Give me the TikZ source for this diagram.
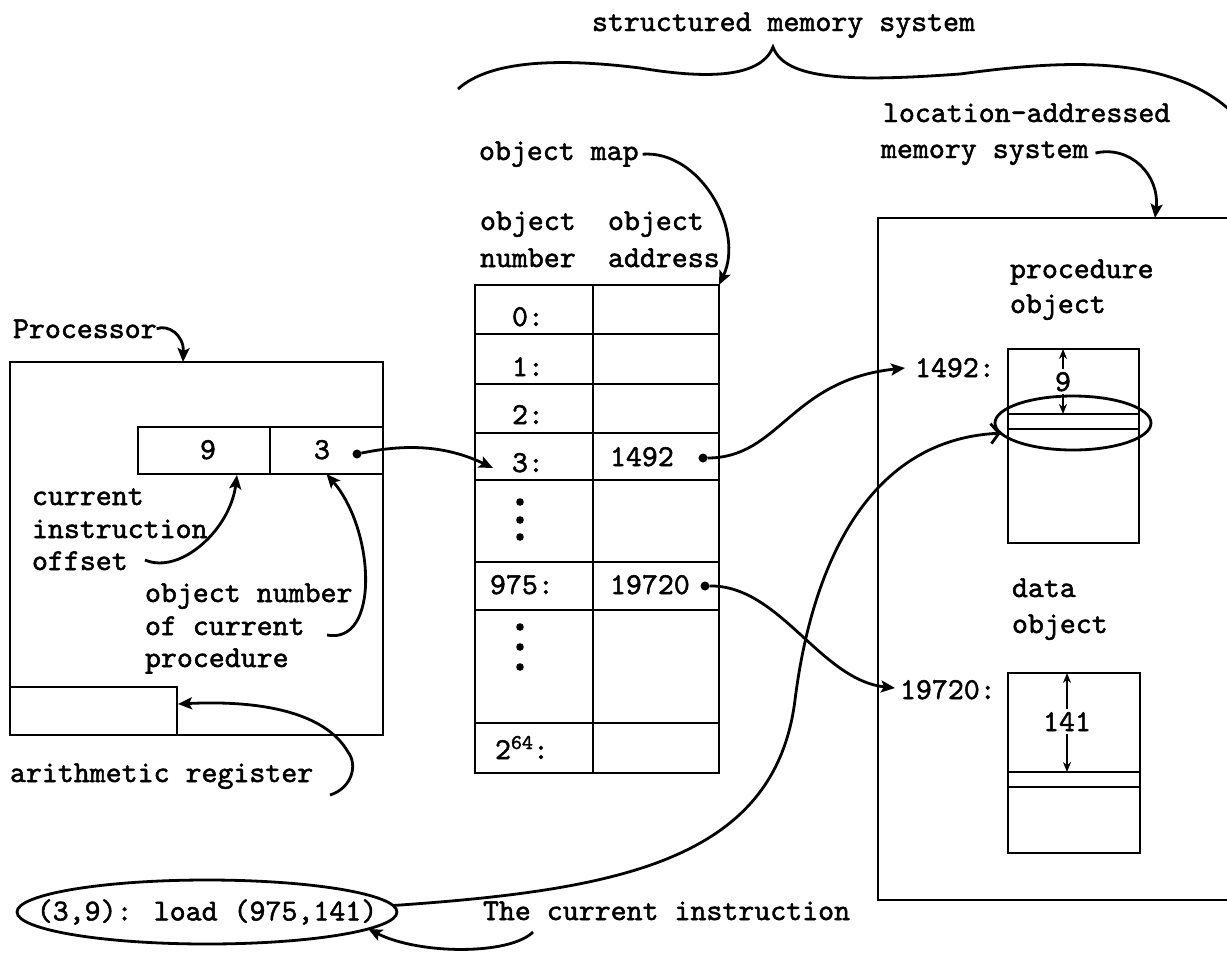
\documentclass[tikz,border=0pt]{standalone}
\usetikzlibrary{arrows.meta,shapes.geometric}
% typewriter face, slightly heavier than the stock weight
\font\twfont="[lmmono10-regular]:embolden=1.6" at 30.4pt
\font\twsmall="[lmmono10-regular]:embolden=1.6" at 21pt
\newcommand\tw{\twfont}
\newcommand\sups[1]{\raisebox{10pt}{\twsmall #1}}
\begin{document}
\begin{tikzpicture}[x=1pt,y=-1pt, line width=2.8pt,
  txt/.style={inner sep=0pt, outer sep=0pt, anchor=base west, font=\tw},
  ctxt/.style={inner sep=0pt, outer sep=0pt, anchor=base, font=\tw},
  box/.style={draw, rectangle, inner sep=0pt, outer sep=0pt, anchor=north west},
  ring/.style={draw, ellipse, inner sep=0pt, outer sep=0pt},
  tip/.style={-{Stealth[length=14pt,width=12pt,inset=3pt]}},
  open/.style={-{Straight Barb[length=8pt,width=20pt]}},
  small/.style={-{Stealth[length=10pt,width=8pt]}, line width=2.2pt},
  dot/.style={circle, fill, inner sep=0pt, outer sep=0pt, minimum size=9pt},
]
\useasboundingbox (0,0) rectangle (1227,954);
\clip (0,0) rectangle (1227,954);
\fill[white] (0,0) rectangle (1227,954);

% brace over the structured memory system
\node[txt] (tTitle) at (592,31) {structured memory system};
\draw (458,89) .. controls (490,60) and (560,58) .. (640,68)
      .. controls (700,78) and (760,80) .. (773,47)
      .. controls (785,80) and (850,82) .. (960,74)
      .. controls (1050,62) and (1170,50) .. (1235,115);

% processor
\node[txt] (tProc) at (13,338) {Processor};
\node[box, minimum width=373pt, minimum height=373pt] (proc) at (10,362) {};
\node[box, minimum width=132pt, minimum height=47pt] (reg9) at (138,427) {};
\node[box, minimum width=113pt, minimum height=47pt] (reg3) at (270,427) {};
\node[box, minimum width=167pt, minimum height=48pt] (arith) at (10,687) {};
\node[ctxt] (v9) at (208,459) {9};
\node[ctxt] (v3) at (322,459) {3};
\node[dot] (d3) at (357,454) {};
\node[txt] (tCur) at (32,505) {current};
\node[txt] (tIns) at (32,538) {instruction};
\node[txt] (tOff) at (32,570) {offset};
\node[txt] (tObn) at (145,602) {object number};
\node[txt] (tOfc) at (145,635) {of current};
\node[txt] (tPrc) at (145,667) {procedure};
\node[txt] (tAr) at (10,782) {arithmetic register};

% object map
\node[txt] (tMap) at (479,160) {object map};
\node[txt] (h1) at (480,230) {object};
\node[txt] (h2) at (480,267) {number};
\node[txt] (h3) at (608,230) {object};
\node[txt] (h4) at (608,267) {address};
\foreach \n/\t/\h in {0/285/49,1/334/50,2/384/49,3/433/47,4/480/82,5/562/48,6/610/113,7/723/50} {
  \node[box, minimum width=118pt, minimum height=\h pt] (num\n) at (475,\t) {};
  \node[box, minimum width=126pt, minimum height=\h pt] (adr\n) at (593,\t) {};
}
\node[txt] (k0) at (512,326) {0:};
\node[txt] (k1) at (512,376) {1:};
\node[txt] (k2) at (512,424) {2:};
\node[txt] (k3) at (512,472) {3:};
\node[txt] (k5) at (490,594) {975:};
\node[txt] (k7) at (495,759) {2\sups{64}:};
\node[txt] (a3) at (610,466) {1492};
\node[txt] (a5) at (610,594) {19720};
\node[dot] (d1492) at (703,458) {};
\node[dot] (d19720) at (705,586) {};
\foreach \y in {502,520,537,627,647,667} \fill (520,\y) circle[radius=3.8pt];

% location-addressed memory system
\node[txt] (tMem1) at (883,122) {location-addressed};
\node[txt] (tMem2) at (881,158) {memory system};
\node[box, minimum width=420pt, minimum height=682pt] (mem) at (878,218) {};
\node[txt] (tPo1) at (1010,278) {procedure};
\node[txt] (tPo2) at (1010,313) {object};
\node[txt] (t1492) at (915,377) {1492:};
\node[box, minimum width=131pt, minimum height=194pt] (pobj) at (1008,349) {};
\node[box, minimum width=131pt, minimum height=15pt] (pslot) at (1008,414) {};
\node[ctxt] (v9p) at (1063,391) {9};
\node[ring, minimum width=156pt, minimum height=54pt] (sel) at (1073,423) {};
\node[txt] (tDo1) at (1012,597) {data};
\node[txt] (tDo2) at (1012,633) {object};
\node[txt] (t19720) at (900,699) {19720:};
\node[box, minimum width=132pt, minimum height=180pt] (dobj) at (1008,673) {};
\node[box, minimum width=132pt, minimum height=15pt] (dslot) at (1008,772) {};
\node[ctxt] (v141) at (1067,731) {141};

% the instruction
\node[ring, minimum width=380pt, minimum height=64pt] (instr) at (207,912) {\makebox[0pt]{\tw (3,9): load (975,141)}};
\node[txt] (tCI) at (483,920) {The current instruction};

% attachment points
\coordinate (procIn) at (183,362);
\coordinate (memIn) at (1155,218);
\coordinate (rowIn) at (493,468);
\coordinate (in1492) at (905,368);
\coordinate (in19720) at (895,688);
\coordinate (offFrom) at (145,560);
\coordinate (offTo) at (237,475);
\coordinate (ocFrom) at (327,635);
\coordinate (arFrom) at (330,795);
\coordinate (arTo) at (178,704);
\coordinate (ciFrom) at (533,932);

% connectors
\draw[tip] (tProc.east) .. controls (168,324) and (184,335) .. (procIn);
\draw[tip] ([xshift=4pt]tMap.east) .. controls (700,150) and (745,230) .. (adr0.north east);
\draw[tip] ([xshift=7pt]tMem2.east) .. controls (1130,145) and (1160,175) .. (memIn);
\draw[tip] (d3) .. controls (405,444) and (445,445) .. (rowIn);
\draw[tip] (d1492) .. controls (780,458) and (790,380) .. (in1492);
\draw[tip] (d19720) .. controls (780,585) and (820,680) .. (in19720);
\draw[open] (instr.2) .. controls (620,890) and (775,860) .. (795,700)
      .. controls (810,580) and (860,440) .. (sel.188);
\draw[tip] (ciFrom) .. controls (510,955) and (420,955) .. (instr.-6);
\draw[tip] (offFrom) .. controls (180,575) and (230,530) .. (offTo);
\draw[tip] (ocFrom) .. controls (380,645) and (375,530) .. (reg3.south);
\draw[tip] (arFrom) .. controls (352,788) and (358,765) .. (348,752)
      .. controls (325,712) and (260,700) .. (arTo);

% offsets inside the objects
\draw[small] ([yshift=3pt]v9p.north) -- (v9p.north |- pobj.north);
\draw[small] ([yshift=-3pt]v9p.south) -- (v9p.south |- pslot.north);
\draw[small] ([yshift=3pt]v141.north) -- (v141.north |- dobj.north);
\draw[small] ([yshift=-3pt]v141.south) -- (v141.south |- dslot.north);
\end{tikzpicture}
\end{document}
